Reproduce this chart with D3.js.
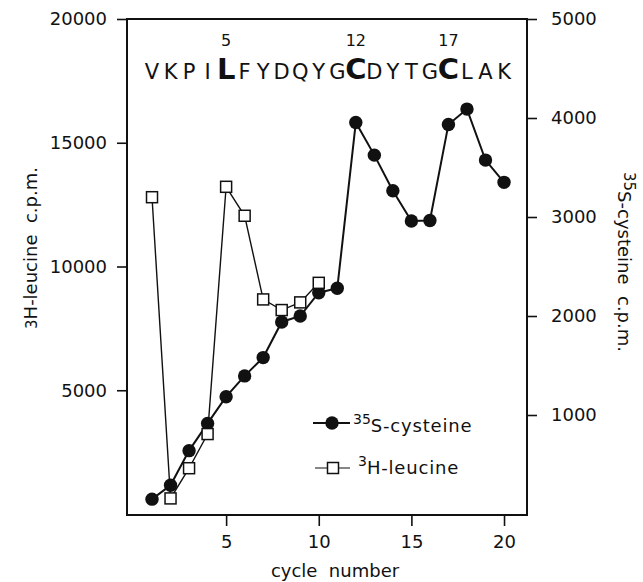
<!DOCTYPE html>
<html>
<head>
<meta charset="utf-8">
<script src="https://cdn.jsdelivr.net/npm/d3@7"></script>
<style>
  body { margin: 0; background: #fff; }
  text { font-family: "DejaVu Sans", sans-serif; fill: #111; }
</style>
</head>
<body>
<script>
var w = 643;
var h = 582;

// ---- data ----
var cycles = [1,2,3,4,5,6,7,8,9,10,11,12,13,14,15,16,17,18,19,20];
var cysteine = [150,290,640,915,1185,1395,1580,1940,2000,2235,2280,3955,3625,3265,2960,2965,3935,4090,3575,3350];
var leucineCycles = [1,2,3,4,5,6,7,8,9,10];
var leucine = [12800,630,1850,3230,13220,12050,8670,8240,8550,9340];
var residues = "VKPILFYDQYGCDYTGCLAK".split("");
var marked = [5, 12, 17];
var xTicks = [5, 10, 15, 20];
var leftTicks = [5000, 10000, 15000, 20000];
var rightTicks = [1000, 2000, 3000, 4000, 5000];

var plotLeft = 127, plotRight = 527, plotTop = 19, plotBottom = 515;

var svg = d3.select("body").append("svg")
    .attr("width", w)
    .attr("height", h);

var x = d3.scaleLinear().domain([-0.35, 21.24]).range([plotLeft, plotRight]);
var yL = d3.scaleLinear().domain([0, 20000]).range([514, plotTop]);
var yR = d3.scaleLinear().domain([0, 5000]).range([514, plotTop]);

//---- frame ----
svg.append("rect")
    .attr("x", plotLeft)
    .attr("y", plotTop)
    .attr("width", plotRight - plotLeft)
    .attr("height", plotBottom - plotTop)
    .attr("fill", "none")
    .attr("stroke", "#111")
    .attr("stroke-width", 2);

//---- axes ----
function styleAxis(g) {
    g.select(".domain").remove();
    g.selectAll("line").attr("stroke", "#111").attr("stroke-width", 1.6);
    g.selectAll("text").attr("font-size", 18).attr("font-family", "DejaVu Sans").attr("fill", "#111");
}

svg.append("g")
    .attr("transform", "translate(0," + plotBottom + ")")
    .call(d3.axisBottom(x).tickValues(xTicks).tickSize(11).tickPadding(9))
    .call(styleAxis);

svg.append("g")
    .attr("transform", "translate(" + plotLeft + ",0)")
    .call(d3.axisLeft(yL).tickValues(leftTicks).tickSize(10).tickPadding(10).tickFormat(d3.format("d")))
    .call(styleAxis);

svg.append("g")
    .attr("transform", "translate(" + plotRight + ",0)")
    .call(d3.axisRight(yR).tickValues(rightTicks).tickSize(10).tickPadding(14).tickFormat(d3.format("d")))
    .call(styleAxis);

//---- axis titles ----
svg.append("text")
    .attr("x", 335)
    .attr("y", 577)
    .attr("text-anchor", "middle")
    .attr("font-size", 18)
    .attr("xml:space", "preserve")
    .text("cycle  number");

var lt = svg.append("text")
    .attr("transform", "translate(37,248) rotate(-90)")
    .attr("text-anchor", "middle")
    .attr("font-size", 18)
    .attr("xml:space", "preserve");
lt.append("tspan").attr("font-size", 15).text("3");
lt.append("tspan").text("H-leucine  c.p.m.");

var rt = svg.append("text")
    .attr("transform", "translate(618,262) rotate(90)")
    .attr("text-anchor", "middle")
    .attr("font-size", 18)
    .attr("xml:space", "preserve");
rt.append("tspan").attr("font-size", 15).attr("dy", -6).text("35");
rt.append("tspan").attr("dy", 6).text("S-cysteine  c.p.m.");

//---- sequence ----
svg.append("g").selectAll("text")
    .data(residues)
    .join("text")
    .attr("x", function (d, i) { return x(i + 1); })
    .attr("y", 79)
    .attr("text-anchor", "middle")
    .attr("font-size", function (d, i) { return marked.indexOf(i + 1) >= 0 ? 29 : 21; })
    .attr("font-weight", function (d, i) { return marked.indexOf(i + 1) >= 0 ? "bold" : "normal"; })
    .text(function (d) { return d; });

svg.append("g").selectAll("text")
    .data(marked)
    .join("text")
    .attr("x", function (d) { return x(d); })
    .attr("y", 46)
    .attr("text-anchor", "middle")
    .attr("font-size", 16)
    .text(function (d) { return d; });

//---- 35S-cysteine ----
var lineC = d3.line()
    .x(function (d, i) { return x(cycles[i]); })
    .y(function (d) { return yR(d); });

svg.append("path")
    .datum(cysteine)
    .attr("d", lineC)
    .attr("fill", "none")
    .attr("stroke", "#111")
    .attr("stroke-width", 2);

svg.append("g").selectAll("circle")
    .data(cysteine)
    .join("circle")
    .attr("cx", function (d, i) { return x(cycles[i]); })
    .attr("cy", function (d) { return yR(d); })
    .attr("r", 6.7)
    .attr("fill", "#111");

//---- 3H-leucine ----
var lineL = d3.line()
    .x(function (d, i) { return x(leucineCycles[i]); })
    .y(function (d) { return yL(d); });

svg.append("path")
    .datum(leucine)
    .attr("d", lineL)
    .attr("fill", "none")
    .attr("stroke", "#111")
    .attr("stroke-width", 1.4);

var sq = 11;
svg.append("g").selectAll("rect")
    .data(leucine)
    .join("rect")
    .attr("x", function (d, i) { return x(leucineCycles[i]) - sq / 2; })
    .attr("y", function (d) { return yL(d) - sq / 2; })
    .attr("width", sq)
    .attr("height", sq)
    .attr("fill", "#fff")
    .attr("stroke", "#111")
    .attr("stroke-width", 1.5);

//---- legend ----
var lg = svg.append("g");
lg.append("line")
    .attr("x1", 313).attr("x2", 350)
    .attr("y1", 423).attr("y2", 423)
    .attr("stroke", "#111").attr("stroke-width", 2);
lg.append("circle")
    .attr("cx", 332).attr("cy", 423).attr("r", 6.7).attr("fill", "#111");
var l1 = lg.append("text").attr("x", 353).attr("y", 432).attr("font-size", 18);
l1.append("tspan").attr("font-size", 14).attr("dy", -8).text("35");
l1.append("tspan").attr("dy", 8).attr("letter-spacing", 0.8).text("S-cysteine");

lg.append("line")
    .attr("x1", 315).attr("x2", 350)
    .attr("y1", 468).attr("y2", 468)
    .attr("stroke", "#111").attr("stroke-width", 1.2);
lg.append("rect")
    .attr("x", 333 - sq / 2).attr("y", 468 - sq / 2)
    .attr("width", sq).attr("height", sq)
    .attr("fill", "#fff").attr("stroke", "#111").attr("stroke-width", 1.5);
var l2 = lg.append("text").attr("x", 358).attr("y", 474).attr("font-size", 18);
l2.append("tspan").attr("font-size", 14).attr("dy", -8).text("3");
l2.append("tspan").attr("dy", 8).attr("letter-spacing", 0.8).text("H-leucine");
</script>
</body>
</html>
